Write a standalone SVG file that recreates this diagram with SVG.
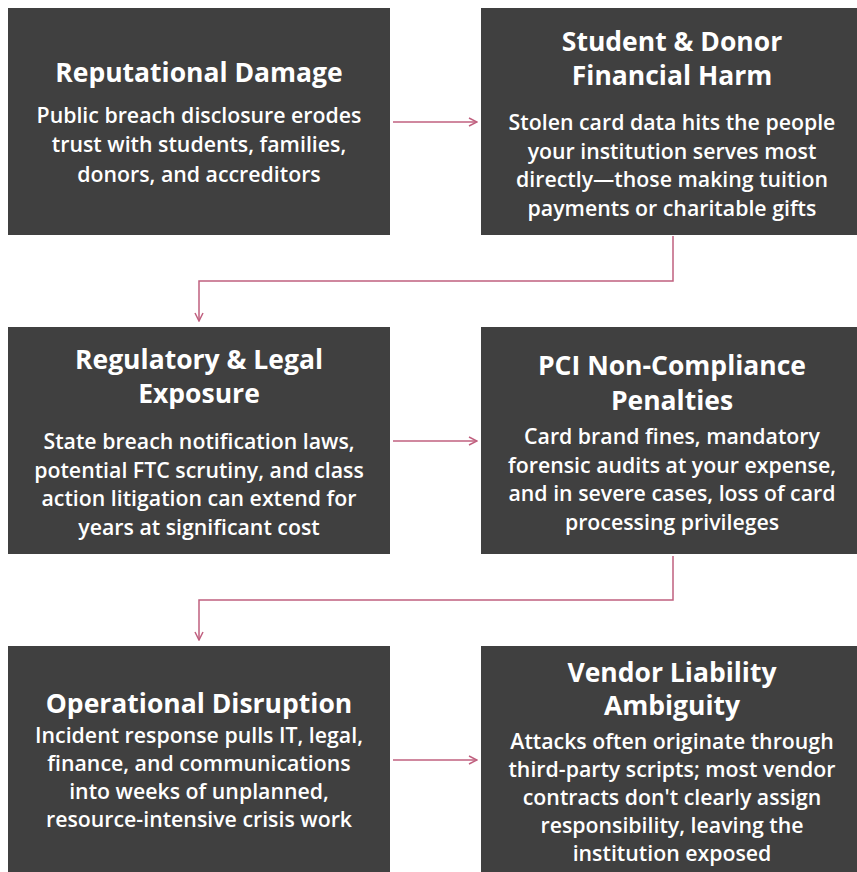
<svg xmlns="http://www.w3.org/2000/svg" width="857" height="872" viewBox="0 0 857 872">
  <defs>
    <style>
      .box { fill: #404040; }
      .title { font-family: "Open Sans", "Liberation Sans", sans-serif; font-weight: 700; font-size: 26.5px; fill: #ffffff; text-anchor: middle; }
      .body { font-family: "Open Sans", "Liberation Sans", sans-serif; font-weight: 600; font-size: 21.3px; fill: #ffffff; text-anchor: middle; }
      .link { fill: none; stroke: #c0607f; stroke-width: 1.5; marker-end: url(#arrow); }
    </style>
    <marker id="arrow" viewBox="0 0 10 10" refX="9" refY="5" markerWidth="10" markerHeight="10" markerUnits="userSpaceOnUse" orient="auto">
      <path d="M1,1 L9,5 L1,9" fill="none" stroke="#c0607f" stroke-width="1.5"/>
    </marker>
  </defs>
  <rect width="857" height="872" fill="#ffffff"/>

  <g id="connectors">
    <line class="link" x1="393" y1="122" x2="477" y2="122"/>
    <path class="link" d="M673,236 V281 H199 V321"/>
    <line class="link" x1="393" y1="441" x2="477" y2="441"/>
    <path class="link" d="M673,556 V600 H199 V640"/>
    <line class="link" x1="393" y1="760" x2="477" y2="760"/>
  </g>

  <g id="reputational-damage">
    <rect class="box" x="8" y="8" width="382" height="227"/>
    <text class="title" x="199" y="82">Reputational Damage</text>
    <text class="body" x="199" y="123">Public breach disclosure erodes</text>
    <text class="body" x="199" y="152">trust with students, families,</text>
    <text class="body" x="199" y="182">donors, and accreditors</text>
  </g>

  <g id="financial-harm">
    <rect class="box" x="481" y="8" width="382" height="227"/>
    <text class="title" x="672" y="51">Student &amp; Donor</text>
    <text class="title" x="672" y="85">Financial Harm</text>
    <text class="body" x="672" y="130">Stolen card data hits the people</text>
    <text class="body" x="672" y="158.5">your institution serves most</text>
    <text class="body" x="672" y="187">directly—those making tuition</text>
    <text class="body" x="672" y="215.5">payments or charitable gifts</text>
  </g>

  <g id="regulatory-exposure">
    <rect class="box" x="8" y="327" width="382" height="227"/>
    <text class="title" x="199" y="369">Regulatory &amp; Legal</text>
    <text class="title" x="199" y="403">Exposure</text>
    <text class="body" x="199" y="449">State breach notification laws,</text>
    <text class="body" x="199" y="477.5">potential FTC scrutiny, and class</text>
    <text class="body" x="199" y="506">action litigation can extend for</text>
    <text class="body" x="199" y="534.5">years at significant cost</text>
  </g>

  <g id="pci-penalties">
    <rect class="box" x="481" y="327" width="382" height="227"/>
    <text class="title" x="672" y="375">PCI Non-Compliance</text>
    <text class="title" x="672" y="410">Penalties</text>
    <text class="body" x="672" y="444">Card brand fines, mandatory</text>
    <text class="body" x="672" y="472.5">forensic audits at your expense,</text>
    <text class="body" x="672" y="501">and in severe cases, loss of card</text>
    <text class="body" x="672" y="529.5">processing privileges</text>
  </g>

  <g id="operational-disruption">
    <rect class="box" x="8" y="646" width="382" height="230"/>
    <text class="title" x="199" y="713">Operational Disruption</text>
    <text class="body" x="199" y="743">Incident response pulls IT, legal,</text>
    <text class="body" x="199" y="771">finance, and communications</text>
    <text class="body" x="199" y="799">into weeks of unplanned,</text>
    <text class="body" x="199" y="827">resource-intensive crisis work</text>
  </g>

  <g id="vendor-liability">
    <rect class="box" x="481" y="646" width="382" height="230"/>
    <text class="title" x="672" y="682">Vendor Liability</text>
    <text class="title" x="672" y="715">Ambiguity</text>
    <text class="body" x="672" y="749">Attacks often originate through</text>
    <text class="body" x="672" y="777">third-party scripts; most vendor</text>
    <text class="body" x="672" y="805">contracts don't clearly assign</text>
    <text class="body" x="672" y="833">responsibility, leaving the</text>
    <text class="body" x="672" y="861">institution exposed</text>
  </g>
</svg>
